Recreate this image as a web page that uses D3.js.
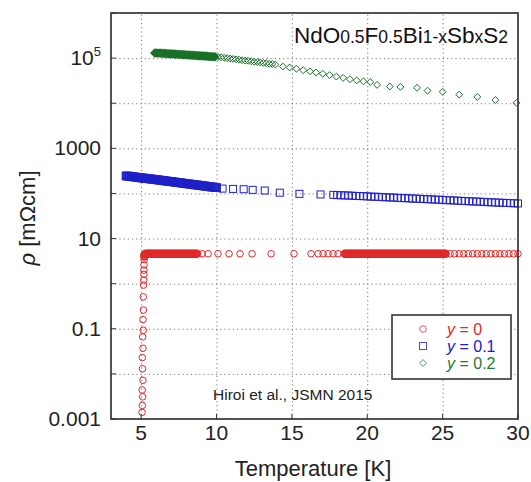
<!DOCTYPE html>
<html>
<head>
<meta charset="utf-8">
<script src="https://cdn.jsdelivr.net/npm/d3@7.9.0/dist/d3.min.js"></script>
<style>
  body { margin: 0; background: #fff; }
  svg { font-family: "Liberation Sans", Arial, sans-serif; }
  .grid line { stroke: #7a7a7a; stroke-dasharray: 1.2,3; }
  .grid path { display: none; }
</style>
</head>
<body>
<svg id="chart" width="531" height="482"></svg>
<script>
// ---- data ----
// y = 0 : transition near 5.1 K, then flat
const redDrop = [[5.06,0.0014],[5.08,0.0020],[5.10,0.0031],[5.07,0.0044],[5.12,0.0072],[5.09,0.013],[5.08,0.023],[5.12,0.037],[5.10,0.066],[5.14,0.093],[5.12,0.16],[5.15,0.26],[5.14,0.51],[5.16,0.93],[5.17,1.2],[5.18,1.6],[5.18,2.0],[5.19,2.6],[5.20,3.4],[5.21,4.0],[5.22,4.4]];
const redNormal = [
  [5.3,4.6],[5.4,4.6],[5.5,4.6],[5.6,4.6],[5.7,4.6],[5.8,4.6],[5.9,4.6],[6.0,4.6],[6.1,4.6],[6.2,4.6],
  [6.3,4.6],[6.4,4.6],[6.5,4.6],[6.6,4.6],[6.7,4.6],[6.8,4.6],[6.9,4.6],[7.0,4.6],[7.1,4.6],[7.2,4.6],
  [7.3,4.6],[7.4,4.6],[7.5,4.6],[7.6,4.6],[7.7,4.6],[7.8,4.6],[7.9,4.6],[8.0,4.6],[8.1,4.6],[8.2,4.6],
  [8.3,4.6],[8.4,4.6],[8.5,4.6],[8.6,4.6],[8.7,4.6],
  [9.04,4.6],[9.44,4.6],[10.1,4.6],[10.83,4.6],[11.56,4.6],[12.36,4.6],[13.62,4.6],[15.14,4.6],
  [16.27,4.6],[16.74,4.6],[17.07,4.6],[17.4,4.6],[17.73,4.6],[18.06,4.6],
  [18.5,4.6],[18.6,4.6],[18.7,4.6],[18.8,4.6],[18.9,4.6],[19.0,4.6],[19.1,4.6],[19.2,4.6],[19.3,4.6],[19.4,4.6],
  [19.5,4.6],[19.6,4.6],[19.7,4.6],[19.8,4.6],[19.9,4.6],[20.0,4.6],[20.1,4.6],[20.2,4.6],[20.3,4.6],[20.4,4.6],
  [20.5,4.6],[20.6,4.6],[20.7,4.6],[20.8,4.6],[20.9,4.6],[21.0,4.6],[21.1,4.6],[21.2,4.6],[21.3,4.6],[21.4,4.6],
  [21.5,4.6],[21.6,4.6],[21.7,4.6],[21.8,4.6],[21.9,4.6],[22.0,4.6],[22.1,4.6],[22.2,4.6],[22.3,4.6],[22.4,4.6],
  [22.5,4.6],[22.6,4.6],[22.7,4.6],[22.8,4.6],[22.9,4.6],[23.0,4.6],[23.1,4.6],[23.2,4.6],[23.3,4.6],[23.4,4.6],
  [23.5,4.6],[23.6,4.6],[23.7,4.6],[23.8,4.6],[23.9,4.6],[24.0,4.6],[24.1,4.6],[24.2,4.6],[24.3,4.6],[24.4,4.6],
  [24.5,4.6],[24.6,4.6],[24.7,4.6],[24.8,4.6],[24.9,4.6],[25.0,4.6],[25.1,4.6],[25.2,4.6],
  [25.5,4.6],[25.8,4.6],[26.1,4.6],[26.4,4.6],[26.7,4.6],[27.0,4.6],[27.3,4.6],[27.6,4.6],[27.9,4.6],
  [28.2,4.6],[28.5,4.6],[28.8,4.6],[29.1,4.6],[29.4,4.6],[29.7,4.6],[30.0,4.6]
];

// y = 0.1
const blueData = [
  [4.0,245],[4.1,243],[4.2,240],[4.3,238],[4.4,236],[4.5,233],[4.6,231],[4.7,229],[4.8,226],[4.9,224],
  [5.0,222],[5.1,220],[5.2,218],[5.3,216],[5.4,214],[5.5,212],[5.6,210],[5.7,208],[5.8,206],[5.9,204],
  [6.0,202],[6.1,200],[6.2,198],[6.3,196],[6.4,194],[6.5,192],[6.6,190],[6.7,188],[6.8,186],[6.9,184],
  [7.0,183],[7.1,181],[7.2,179],[7.3,177],[7.4,175],[7.5,174],[7.6,172],[7.7,170],[7.8,168],[7.9,167],
  [8.0,165],[8.1,163],[8.2,162],[8.3,160],[8.4,158],[8.5,157],[8.6,155],[8.7,154],[8.8,152],[8.9,151],
  [9.0,149],[9.1,148],[9.2,146],[9.3,145],[9.4,143],[9.5,142],[9.6,140],[9.7,139],[9.8,138],[9.9,136],[10.0,135],
  [10.4,128],[11.1,126],[11.8,124],[12.4,120],[13.2,116],[14.2,104],[15.5,98],[16.9,95],
  [17.75,93],[18.0,92],[18.25,91],[18.5,90.5],[18.75,90],[19.0,89],[19.25,88],[19.5,87.5],[19.75,87],[20.0,86],
  [20.25,85],[20.5,84.5],[20.75,84],[21.0,83],[21.25,82],[21.5,81.5],[21.75,81],[22.0,80],[22.25,79],[22.5,78.5],
  [22.75,78],[23.0,77],[23.25,76.5],[23.5,76],[23.75,75],[24.0,74.5],[24.25,74],[24.5,73],[24.75,72.5],[25.0,72],
  [25.25,71],[25.5,70.5],[25.75,70],[26.0,69],[26.25,68.5],[26.5,68],[26.75,67],[27.0,66.5],[27.25,66],[27.5,65.5],
  [27.75,65],[28.0,64],[28.25,63.5],[28.5,63],[28.75,62.5],[29.0,62],[29.25,61.5],[29.5,61],[29.75,60.5],[30.0,60]
];

// y = 0.2
const greenData = [
  [5.9,1.30e5],[6.0,1.30e5],[6.1,1.29e5],[6.2,1.29e5],[6.3,1.28e5],[6.4,1.28e5],[6.5,1.27e5],[6.6,1.27e5],[6.7,1.26e5],[6.8,1.25e5],
  [6.9,1.25e5],[7.0,1.24e5],[7.1,1.23e5],[7.2,1.23e5],[7.3,1.22e5],[7.4,1.22e5],[7.5,1.21e5],[7.6,1.20e5],[7.7,1.20e5],[7.8,1.19e5],
  [7.9,1.19e5],[8.0,1.18e5],[8.1,1.17e5],[8.2,1.17e5],[8.3,1.16e5],[8.4,1.16e5],[8.5,1.15e5],[8.6,1.14e5],[8.7,1.14e5],[8.8,1.13e5],
  [8.9,1.13e5],[9.0,1.12e5],[9.1,1.11e5],[9.2,1.11e5],[9.3,1.10e5],[9.4,1.10e5],[9.5,1.09e5],[9.6,1.08e5],[9.7,1.08e5],[9.8,1.07e5],[9.9,1.07e5],
  [10.1,1.06e5],[10.3,1.04e5],[10.5,1.02e5],[10.7,1.00e5],[10.9,9.8e4],[11.1,9.6e4],[11.3,9.4e4],[11.5,9.2e4],[11.7,9.0e4],[11.9,8.8e4],
  [12.1,8.7e4],[12.3,8.5e4],[12.5,8.3e4],[12.7,8.2e4],[12.9,8.0e4],[13.1,7.8e4],[13.3,7.7e4],[13.5,7.5e4],[13.7,7.4e4],[13.9,7.2e4],
  [14.4,6.5e4],[14.85,6.2e4],[15.3,5.8e4],[15.75,5.4e4],[16.2,5.1e4],[16.6,4.8e4],[17.05,4.5e4],[17.5,4.2e4],[17.95,3.9e4],
  [18.4,3.65e4],[18.85,3.4e4],[19.3,3.2e4],[19.75,3.05e4],[20.2,2.95e4],
  [20.65,2.55e4],[21.5,2.35e4],[22.2,2.3e4],[23.3,2.2e4],[24.0,1.9e4],[25.0,1.8e4],[26.1,1.55e4],[27.3,1.38e4],[28.5,1.18e4],[29.9,1.02e4]
];

const xTicks = [5, 10, 15, 20, 25, 30];
const yGrid = [1e-3, 1e-2, 1e-1, 1, 10, 100, 1e3, 1e4, 1e5, 1e6];
const yLabels = [[1e-3, "0.001"], [1e-1, "0.1"], [10, "10"], [1e3, "1000"], [1e5, "10", "5"]];
const legendItems = [["0", "#e02828", "circle"], ["0.1", "#2020c8", "square"], ["0.2", "#1f7a30", "diamond"]];

// ---- layout ----
const svg = d3.select("#chart");
const pL = 111, pR = 518, pT = 13, pB = 419;

const x = d3.scaleLinear().domain([3, 30]).range([pL, pR]);
const y = d3.scaleLog().domain([1e-3, 1e6]).range([pB, pT]);

// marker strokes look heavier where points pile up
function strokeW(arr, gap) {
  return (d, i) => {
    const prev = i > 0 ? Math.abs(d[0] - arr[i - 1][0]) + Math.abs(y(d[1]) - y(arr[i - 1][1])) / 15 : 9;
    const next = i < arr.length - 1 ? Math.abs(arr[i + 1][0] - d[0]) + Math.abs(y(arr[i + 1][1]) - y(d[1])) / 15 : 9;
    return Math.min(prev, next) < gap ? 1.8 : 1;
  };
}

// grid
svg.append("g").attr("class", "grid")
  .attr("transform", `translate(0,${pB})`)
  .call(d3.axisBottom(x).tickValues(xTicks.slice(0, -1)).tickSize(-(pB - pT)).tickFormat(""));
svg.append("g").attr("class", "grid")
  .attr("transform", `translate(${pL},0)`)
  .call(d3.axisLeft(y).tickValues(yGrid.slice(1, -1)).tickSize(-(pR - pL)).tickFormat(""));

// small tick marks inside the frame
svg.append("g").selectAll("line").data(yGrid).join("line")
  .attr("x1", pL).attr("x2", pL + 5)
  .attr("y1", d => y(d)).attr("y2", d => y(d))
  .attr("stroke", "#333");
svg.append("g").selectAll("line").data(xTicks).join("line")
  .attr("x1", d => x(d)).attr("x2", d => x(d))
  .attr("y1", pB).attr("y2", pB - 5)
  .attr("stroke", "#333");

// data marks
const plot = svg.append("g");
const redAll = redDrop.concat(redNormal);
plot.selectAll("circle.r").data(redAll).join("circle")
  .attr("class", "r")
  .attr("cx", d => x(d[0])).attr("cy", d => y(d[1])).attr("r", 3.3)
  .attr("fill", "none").attr("stroke", "#e02828").attr("stroke-width", strokeW(redAll, 0.15));

plot.selectAll("rect.b").data(blueData).join("rect")
  .attr("class", "b")
  .attr("x", d => x(d[0]) - 3.5).attr("y", d => y(d[1]) - 3.5)
  .attr("width", 7).attr("height", 7)
  .attr("fill", "none").attr("stroke", "#2020c8").attr("stroke-width", strokeW(blueData, 0.15));

const diamond = d3.symbol().type(d3.symbolDiamond2).size(30);
plot.selectAll("path.g").data(greenData).join("path")
  .attr("class", "g")
  .attr("transform", d => `translate(${x(d[0])},${y(d[1])})`)
  .attr("d", diamond)
  .attr("fill", "none").attr("stroke", "#1a7028").attr("stroke-width", strokeW(greenData, 0.15));

// frame
svg.append("rect")
  .attr("x", pL).attr("y", pT).attr("width", pR - pL).attr("height", pB - pT)
  .attr("fill", "none").attr("stroke", "#2a2a2a").attr("stroke-width", 1.6);

// tick labels
svg.append("g").selectAll("text").data(xTicks).join("text")
  .attr("x", d => x(d)).attr("y", pB + 21)
  .attr("text-anchor", "middle").attr("font-size", 21).attr("fill", "#222")
  .text(d => d);

const yl = svg.append("g").selectAll("text").data(yLabels).join("text")
  .attr("x", 101).attr("y", d => y(d[0]) + 7)
  .attr("text-anchor", "end").attr("font-size", 21).attr("fill", "#222");
yl.each(function (d) {
  const t = d3.select(this);
  t.append("tspan").text(d[1]);
  if (d[2]) t.append("tspan").attr("dy", -9).attr("font-size", 13).text(d[2]);
});

// axis titles
svg.append("text")
  .attr("x", 313).attr("y", 476)
  .attr("text-anchor", "middle").attr("font-size", 22).attr("fill", "#222")
  .text("Temperature [K]");

const ylab = svg.append("text")
  .attr("transform", `translate(35,218) rotate(-90)`)
  .attr("text-anchor", "middle").attr("font-size", 22).attr("fill", "#222");
ylab.append("tspan").attr("font-style", "italic").text("ρ");
ylab.append("tspan").text(" [mΩcm]");

// compound title
const title = svg.append("text").attr("x", 508).attr("y", 43)
  .attr("text-anchor", "end").attr("font-size", 22.5).attr("fill", "#111");
[["NdO", 0], ["0.5", 1], ["F", 0], ["0.5", 1], ["Bi", 0], ["1-x", 1], ["Sb", 0], ["x", 1], ["S", 0], ["2", 1]]
  .forEach(([s, sub]) => {
    title.append("tspan").attr("font-size", sub ? 17.5 : 22.5).text(s);
  });

// citation
svg.append("text").attr("x", 213).attr("y", 400)
  .attr("font-size", 15.5).attr("fill", "#222")
  .text("Hiroi et al., JSMN 2015");

// legend
const lg = svg.append("g");
lg.append("rect").attr("x", 392).attr("y", 315).attr("width", 119).attr("height", 64)
  .attr("fill", "#fff").attr("stroke", "#333").attr("stroke-width", 1.6);
legendItems.forEach(([val, col, shape], i) => {
  const cy = 329 + i * 17;
  if (shape === "circle") {
    lg.append("circle").attr("cx", 423).attr("cy", cy).attr("r", 3.3)
      .attr("fill", "none").attr("stroke", "#e06060");
  } else if (shape === "square") {
    lg.append("rect").attr("x", 419.5).attr("y", cy - 3.5).attr("width", 7).attr("height", 7)
      .attr("fill", "none").attr("stroke", "#4a4ad8");
  } else {
    lg.append("path").attr("transform", `translate(423,${cy})`).attr("d", diamond)
      .attr("fill", "none").attr("stroke", "#4a9a5a");
  }
  const t = lg.append("text").attr("x", 447).attr("y", cy + 6)
    .attr("font-size", 16).attr("fill", col);
  t.append("tspan").attr("font-style", "italic").text("y");
  t.append("tspan").text(" = " + val);
});
</script>
</body>
</html>
